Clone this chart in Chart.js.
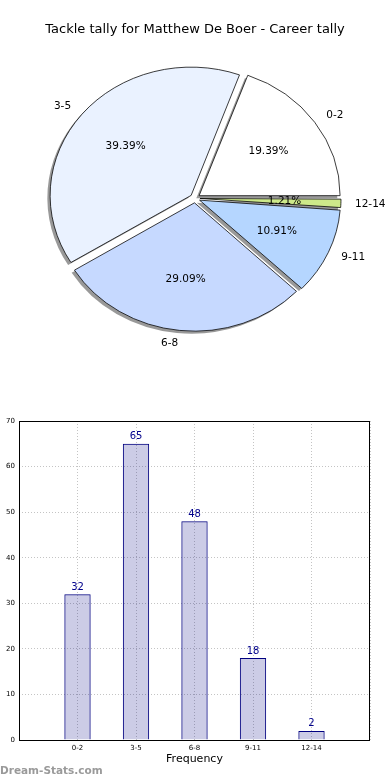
<!DOCTYPE html>
<html>
<head>
<meta charset="utf-8">
<script src="https://cdn.jsdelivr.net/npm/chart.js@4.4.0/dist/chart.umd.min.js"></script>
<style>
  body { margin: 0; background: #fff; width: 390px; height: 780px; position: relative; overflow: hidden; }
  #pieWrap { position: absolute; left: 0; top: 0; width: 390px; height: 400px; }
  #barWrap { position: absolute; left: 0; top: 400px; width: 390px; height: 380px; }
  #mark { position: absolute; left: 0; top: 764px; font: bold 10.5px 'DejaVu Sans'; line-height: 12px; color: #9a9a9a; }
</style>
</head>
<body>
<div id="pieWrap"><canvas id="pieChart"></canvas></div>
<div id="barWrap"><canvas id="barChart"></canvas></div>
<div id="mark">Dream-Stats.com</div>
<script>
const categories = ['0-2', '3-5', '6-8', '9-11', '12-14'];
const tallies = [32, 65, 48, 18, 2];
const sliceColors = ['#ffffff', '#eaf2ff', '#c6d9ff', '#b5d6ff', '#cde98a'];
const yTicks = [0, 10, 20, 30, 40, 50, 60, 70];

Chart.defaults.font.family = "'DejaVu Sans'";

const squash = 0.91;   // the pie is a little flatter than round
const explode = 20;    // chart.js moves each arc by offset / 4

function squashAround(ctx, cx, cy) {
    ctx.translate(cx, cy);
    ctx.scale(1, squash);
    ctx.translate(-cx, -cy);
}

const pieLook = {
    id: 'pieLook',
    beforeDatasetsDraw(chart) {
        const meta = chart.getDatasetMeta(0);
        const R = meta.controller.outerRadius;
        // undo the extra radius chart.js gives to small offset slices
        meta.data.forEach(arc => {
            const fix = 1 - Math.sin(Math.min(Math.PI, arc.circumference));
            arc.outerRadius = R - explode / 4 * fix;
        });
        const ctx = chart.ctx;
        const cx = meta.data[0].x, cy = meta.data[0].y;

        // shadow pass: every slice in grey, shifted down-left, under all slices
        ctx.save();
        ctx.translate(-2.8, 2.6);
        squashAround(ctx, cx, cy);
        meta.data.forEach(arc => {
            const keep = arc.options;
            arc.options = Object.assign({}, keep, { backgroundColor: 'rgba(0,0,0,0.4)', borderWidth: 0 });
            arc.draw(ctx);
            arc.options = keep;
        });
        ctx.restore();

        ctx.save();
        squashAround(ctx, cx, cy);
    },
    afterDatasetsDraw(chart) {
        const ctx = chart.ctx;
        ctx.restore();
        const meta = chart.getDatasetMeta(0);
        const R = meta.controller.outerRadius;
        const values = chart.data.datasets[0].data;
        const total = values.reduce((a, b) => a + b, 0);
        ctx.save();
        ctx.font = "10.5px 'DejaVu Sans'";
        ctx.fillStyle = '#000';
        ctx.textBaseline = 'middle';
        meta.data.forEach((arc, i) => {
            const mid = (arc.startAngle + arc.endAngle) / 2;
            const c = Math.cos(mid), s = Math.sin(mid) * squash;
            const ox = arc.x + c * explode / 4, oy = arc.y + s * explode / 4;
            ctx.textAlign = c > 0 ? 'left' : 'right';
            ctx.fillText(chart.data.labels[i], ox + c * R * 1.1, oy + s * R * 1.1);
            ctx.textAlign = 'center';
            ctx.fillText((values[i] / total * 100).toFixed(2) + '%', ox + c * R * 0.6, oy + s * R * 0.6);
        });
        ctx.restore();
    }
};

// matplotlib goes counter-clockwise from 3 o'clock, chart.js clockwise -> reverse
new Chart(document.getElementById('pieChart'), {
    type: 'pie',
    data: {
        labels: categories.slice().reverse(),
        datasets: [{
            data: tallies.slice().reverse(),
            backgroundColor: sliceColors.slice().reverse(),
            borderColor: '#000',
            borderWidth: 0.8,
            offset: explode
        }]
    },
    options: {
        animation: false,
        responsive: true,
        maintainAspectRatio: false,
        rotation: 90,
        radius: 141,
        layout: { padding: { top: 0, bottom: 51 } },
        events: [],
        plugins: {
            legend: { display: false },
            tooltip: { enabled: false },
            title: {
                display: true,
                text: 'Tackle tally for Matthew De Boer - Career tally',
                color: '#000',
                font: { size: 13, weight: 'normal' },
                padding: { top: 22, bottom: 10 }
            }
        }
    },
    plugins: [pieLook]
});

const barLook = {
    id: 'barLook',
    afterDatasetsDraw(chart) {
        const ctx = chart.ctx;
        const meta = chart.getDatasetMeta(0);
        ctx.save();
        ctx.font = "10px 'DejaVu Sans'";
        ctx.fillStyle = '#00008b';
        ctx.textAlign = 'center';
        ctx.textBaseline = 'bottom';
        meta.data.forEach((bar, i) => {
            ctx.fillText(String(tallies[i]), bar.x, bar.y - 2);
        });
        ctx.restore();
    },
    afterDraw(chart) {
        const {left, top, right, bottom} = chart.chartArea;
        const ctx = chart.ctx;
        ctx.save();
        ctx.strokeStyle = '#000';
        ctx.lineWidth = 1;
        ctx.strokeRect(left + 0.5, top + 0.5, right - left - 1, bottom - top);
        ctx.restore();
    }
};

const borderStyle = { display: false, dash: [1, 2] };

new Chart(document.getElementById('barChart'), {
    type: 'bar',
    data: {
        datasets: [{
            data: tallies.map((v, i) => ({ x: i, y: v })),
            backgroundColor: 'rgba(0,0,128,0.2)',
            borderColor: '#000080',
            borderWidth: 1,
            barPercentage: 0.45,
            categoryPercentage: 1
        }]
    },
    options: {
        animation: false,
        responsive: true,
        maintainAspectRatio: false,
        events: [],
        layout: { padding: { top: 21, right: 20, left: 0, bottom: 14 } },
        plugins: { legend: { display: false }, tooltip: { enabled: false } },
        scales: {
            x: {
                type: 'linear',
                min: -1,
                max: 5,
                offset: false,
                afterFit: s => { s.height = 26; },
                ticks: {
                    stepSize: 1,
                    autoSkip: false,
                    maxRotation: 0,
                    padding: 4,
                    color: '#000',
                    font: { size: 7 },
                    callback: v => categories[v] ?? ''
                },
                grid: { color: '#c4c4c4', drawTicks: false, offset: false },
                border: borderStyle,
                title: {
                    display: true,
                    text: 'Frequency',
                    color: '#000',
                    font: { size: 11 },
                    padding: { top: 0, bottom: 0 }
                }
            },
            y: {
                min: 0,
                max: 70,
                afterFit: s => { s.width = 19; },
                afterBuildTicks: s => { s.ticks = yTicks.map(v => ({ value: v })); },
                ticks: { padding: 4, color: '#000', font: { size: 7 } },
                grid: { color: '#c4c4c4', drawTicks: false },
                border: borderStyle
            }
        }
    },
    plugins: [barLook]
});
</script>
</body>
</html>
